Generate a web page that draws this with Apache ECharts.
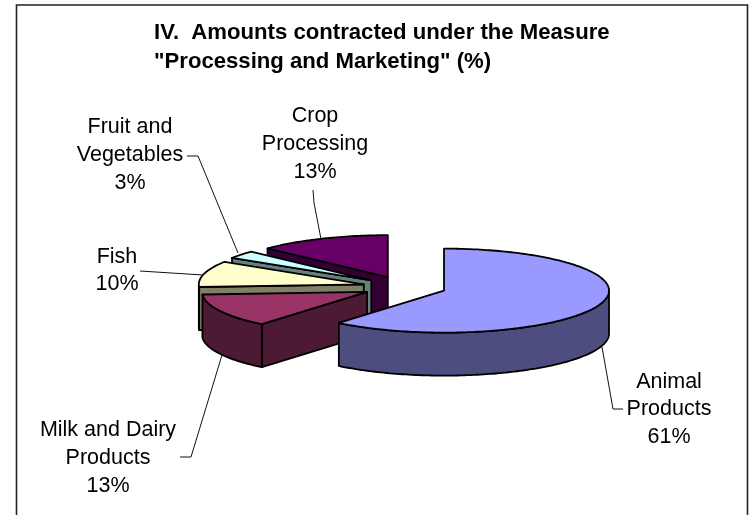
<!DOCTYPE html>
<html>
<head>
<meta charset="utf-8">
<style>html,body{margin:0;padding:0;background:#fff}#chart{width:749px;height:515px}</style>
<script src="https://cdn.jsdelivr.net/npm/echarts@6/dist/echarts.min.js"></script>
</head>
<body>
<div id="chart"></div>
<script>
const categories = ['Animal\nProducts', 'Milk and Dairy\nProducts', 'Fish', 'Fruit and\nVegetables', 'Crop\nProcessing']
const values = [61, 13, 10, 3, 13]
const topColors = ['#9999ff', '#993366', '#ffffcc', '#ccffff', '#660066']
const sideColors = ['#4d4d80', '#4d1a33', '#808066', '#668080', '#330033']

// pie geometry, the library has no 3d pie so it is a custom series
const cx = 404.5, cy = 287, rx = 165, ry = 42, depth = 43, explode = 42
const total = values.reduce((a, b) => a + b, 0)

const pt = (ox, oy, a) => [ox + rx * Math.sin(a), oy - ry * Math.cos(a)]
const down = p => [p[0], p[1] + depth]

function arcPoints(ox, oy, a0, a1) {
  const n = Math.max(2, Math.ceil(Math.abs(a1 - a0) / 0.02))
  const pts = []
  for (let i = 0; i <= n; i++) pts.push(pt(ox, oy, a0 + (a1 - a0) * i / n))
  return pts
}

function renderSlice(params, api) {
  const idx = api.value(0)
  const before = values.slice(0, idx).reduce((a, b) => a + b, 0)
  const a0 = before / total * Math.PI * 2
  const a1 = (before + api.value(1)) / total * Math.PI * 2
  const mid = (a0 + a1) / 2
  const ox = cx + explode * Math.sin(mid)
  const oy = cy - explode * (ry / rx) * Math.cos(mid)
  const line = { stroke: '#000', lineWidth: 1.8, lineJoin: 'round' }
  const poly = (points, fill) => ({ type: 'polygon', shape: { points }, style: { fill, ...line } })
  const children = []
  const side = sideColors[idx]
  const apex = [ox, oy]
  // walls only when they face the viewer
  if (Math.sin(a0) < -0.001) {
    const p = pt(ox, oy, a0)
    children.push(poly([apex, p, down(p), down(apex)], side))
  }
  if (Math.sin(a1) > 0.001) {
    const p = pt(ox, oy, a1)
    children.push(poly([apex, p, down(p), down(apex)], side))
  }
  // outer rim, front half only
  const s = Math.max(a0, Math.PI / 2), e = Math.min(a1, Math.PI * 1.5)
  if (e > s) {
    const arc = arcPoints(ox, oy, s, e)
    children.push(poly(arc.concat(arc.map(down).reverse()), side))
  }
  children.push(poly([apex].concat(arcPoints(ox, oy, a0, a1)), topColors[idx]))
  return { type: 'group', children }
}

const labelPos = [[669, 409.5], [108, 458], [117, 270.5], [130, 155], [315, 144]]
const leaders = [
  [[602, 347], [613, 409], [623, 409]],
  [[180, 457], [191, 457], [222, 355]],
  [[140, 271], [203, 275]],
  [[187, 156], [198, 156], [238, 253]],
  [[313, 190], [314, 203], [321, 239]]
]

const chart = echarts.init(document.getElementById('chart'), null, { renderer: 'canvas' })
chart.setOption({
  animation: false,
  backgroundColor: '#fff',
  title: {
    text: 'IV.  Amounts contracted under the Measure\n"Processing and Marketing" (%)',
    left: 149,
    top: 14,
    textStyle: { fontFamily: 'Liberation Sans', fontSize: 22.15, fontWeight: 'bold', color: '#000', lineHeight: 28.5 }
  },
  graphic: [
    { type: 'polyline', shape: { points: [[16.5, 525], [16.5, 5], [747.5, 5], [747.5, 525]] }, style: { stroke: '#222', fill: null, lineWidth: 1.6 } }
  ].concat(leaders.map(points => ({
    type: 'polyline', shape: { points }, style: { stroke: '#111', fill: null, lineWidth: 1 }, z: 5
  }))).concat(categories.map((name, i) => ({
    type: 'text',
    x: labelPos[i][0],
    y: labelPos[i][1],
    style: {
      text: name + '\n' + values[i] + '%',
      fontFamily: 'Liberation Sans',
      fontSize: 21.5,
      lineHeight: 27.8,
      fill: '#000',
      align: 'center',
      verticalAlign: 'middle'
    }
  }))),
  series: [{
    type: 'custom',
    coordinateSystem: 'none',
    renderItem: renderSlice,
    // back to front, so the big slice ends up on top
    data: values.map((v, i) => [i, v]).reverse()
  }]
})
</script>
</body>
</html>
